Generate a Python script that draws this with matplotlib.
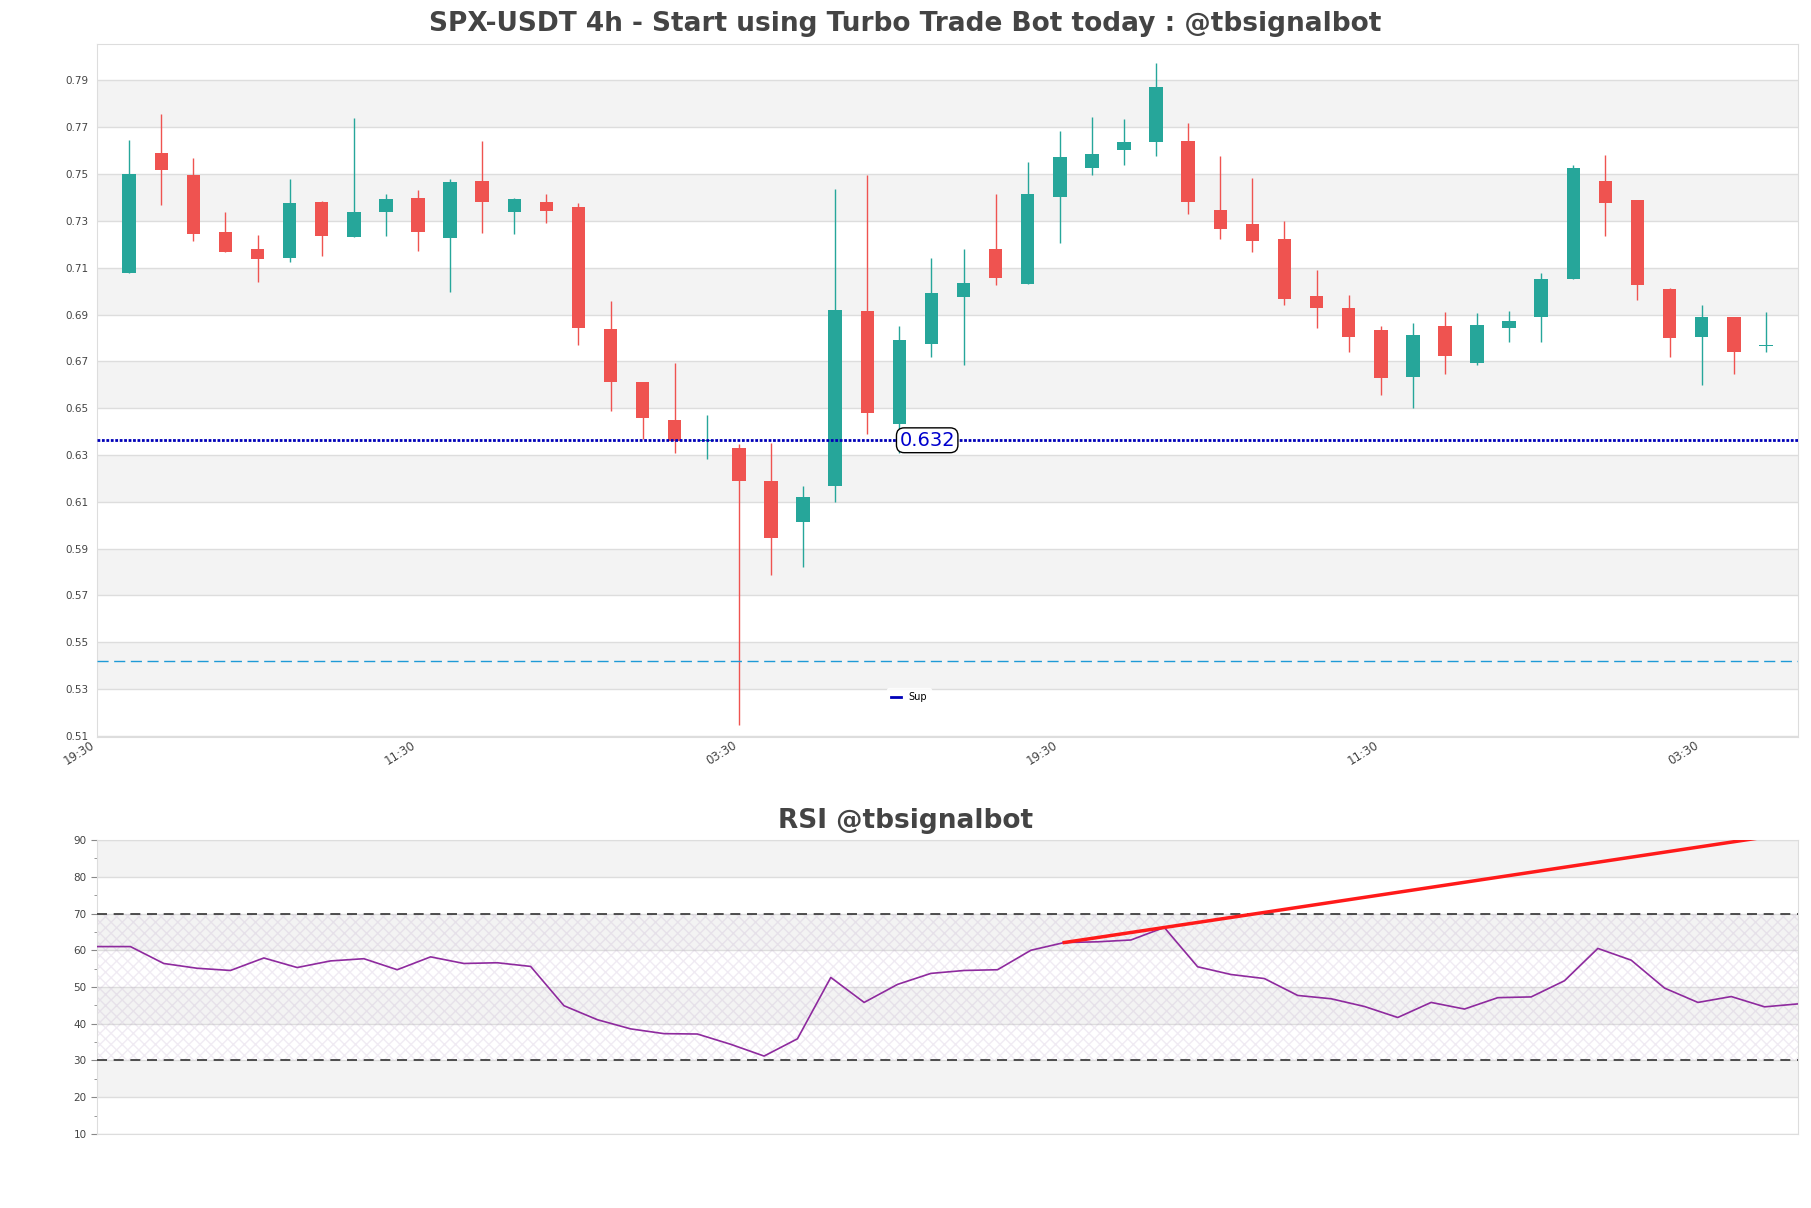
import numpy as np
import matplotlib
matplotlib.use("Agg")
import matplotlib.pyplot as plt

# 4h candles
opens = [0.7078, 0.7592, 0.7495, 0.7251, 0.7179, 0.7143, 0.7379, 0.7232, 0.7339, 0.7396,
         0.7226, 0.7472, 0.7339, 0.7382, 0.7358, 0.6838, 0.6612, 0.6450, 0.6361, 0.6330,
         0.6189, 0.6012, 0.6166, 0.6914, 0.6431, 0.6775, 0.6975, 0.7179, 0.7030, 0.7401,
         0.7525, 0.7605, 0.7635, 0.7643, 0.7348, 0.7285, 0.7224, 0.6979, 0.6928, 0.6832,
         0.6635, 0.6850, 0.6694, 0.6844, 0.6890, 0.7053, 0.7472, 0.7388, 0.7011, 0.6806,
         0.6888, 0.6765]
closes = [0.7499, 0.7518, 0.7244, 0.7167, 0.7137, 0.7375, 0.7236, 0.7337, 0.7392, 0.7253,
          0.7468, 0.7380, 0.7392, 0.7342, 0.6844, 0.6614, 0.6456, 0.6362, 0.6364, 0.6191,
          0.5944, 0.6121, 0.6918, 0.6480, 0.6791, 0.6990, 0.7034, 0.7057, 0.7417, 0.7571,
          0.7584, 0.7639, 0.7870, 0.7380, 0.7266, 0.7215, 0.6968, 0.6930, 0.6806, 0.6627,
          0.6812, 0.6724, 0.6855, 0.6872, 0.7051, 0.7527, 0.7377, 0.7028, 0.6800, 0.6888,
          0.6741, 0.6768]
highs = [0.7647, 0.7757, 0.7567, 0.7337, 0.7238, 0.7478, 0.7386, 0.7740, 0.7417, 0.7430,
         0.7478, 0.7643, 0.7396, 0.7413, 0.7377, 0.6956, 0.6612, 0.6692, 0.6471, 0.6345,
         0.6353, 0.6168, 0.7438, 0.7498, 0.6850, 0.7141, 0.7179, 0.7417, 0.7550, 0.7685,
         0.7742, 0.7736, 0.7976, 0.7719, 0.7578, 0.7485, 0.7299, 0.7089, 0.6983, 0.6850,
         0.6863, 0.6911, 0.6905, 0.6916, 0.7076, 0.7537, 0.7580, 0.7388, 0.7015, 0.6939,
         0.6888, 0.6911]
lows = [0.7078, 0.7367, 0.7215, 0.7167, 0.7040, 0.7126, 0.7150, 0.7232, 0.7236, 0.7171,
        0.6996, 0.7249, 0.7242, 0.7291, 0.6768, 0.6490, 0.6368, 0.6307, 0.6284, 0.5147,
        0.5786, 0.5820, 0.6098, 0.6391, 0.6307, 0.6720, 0.6686, 0.7025, 0.7030, 0.7205,
        0.7497, 0.7538, 0.7577, 0.7329, 0.7221, 0.7167, 0.6941, 0.6844, 0.6741, 0.6558,
        0.6501, 0.6644, 0.6686, 0.6781, 0.6781, 0.7053, 0.7234, 0.6962, 0.6720, 0.6597,
        0.6644, 0.6741]

rsi = [61.0, 61.0, 56.4, 55.1, 54.5, 57.9, 55.3, 57.1, 57.7, 54.7,
       58.2, 56.4, 56.6, 55.6, 44.9, 41.1, 38.6, 37.3, 37.2, 34.4,
       31.2, 35.9, 52.6, 45.8, 50.7, 53.7, 54.5, 54.7, 60.0, 62.1,
       62.3, 62.8, 66.2, 55.5, 53.4, 52.3, 47.7, 46.8, 44.7, 41.7,
       45.8, 44.0, 47.1, 47.3, 51.7, 60.5, 57.3, 49.7, 45.8, 47.4,
       44.6, 45.4]

tick_labels = ["19:30", "11:30", "03:30", "19:30", "11:30", "03:30"]
support = 0.6363
support_label = "0.632"
lower_line = 0.5421
trend_from, trend_to = 29, 32  # rsi indices the red trend line passes through

title = "SPX-USDT 4h - Start using Turbo Trade Bot today : @tbsignalbot"
rsi_title = "RSI @tbsignalbot"

up_col = "#26a69a"
down_col = "#ef5350"
band_col = "#f3f3f3"
grid_col = "#dddddd"
text_col = "#444444"

fig = plt.figure(figsize=(18.11, 12.08), dpi=100)
ax = fig.add_axes([0.0536, 0.3899, 0.9392, 0.5737])
ax2 = fig.add_axes([0.0536, 0.0613, 0.9392, 0.2433])

fig.text(0.5, 1 - 24 / 1208, title, ha="center", va="center",
         fontsize=19, fontweight="bold", color=text_col)
fig.text(0.5, 1 - 821 / 1208, rsi_title, ha="center", va="center",
         fontsize=19, fontweight="bold", color=text_col)

# ---- price panel ----
n = len(opens)
x = np.arange(1, n + 1)
o = np.array(opens)
c = np.array(closes)
colors = [up_col if cc >= oo else down_col for oo, cc in zip(o, c)]
body = np.maximum(np.abs(c - o), 0.0004)
ax.vlines(x, lows, highs, colors=colors, lw=1, zorder=2)
ax.bar(x, body, bottom=np.minimum(o, c), width=0.42, color=colors, zorder=3)

ymin = min(lows) * 0.99
ymax = max(highs) * 1.01
ax.set_ylim(ymin, ymax)
ax.set_xlim(0, n + 1)

yt = np.round(np.arange(0.51, 0.80, 0.02), 2)
ax.set_yticks(yt)
ax.set_yticklabels(["%.2f" % v for v in yt])
for lo in yt[1:-1:2]:
    ax.axhspan(lo, lo + 0.02, color=band_col, zorder=0, lw=0)
ax.yaxis.grid(True, color=grid_col, lw=1)
ax.set_axisbelow(True)

ax.set_xticks(np.arange(0, n + 1, 10))
ax.set_xticklabels(tick_labels, rotation=32, ha="right")
ax.tick_params(axis="y", length=0, labelsize=7.5, labelcolor=text_col, pad=6)
ax.tick_params(axis="x", length=0, labelsize=8.5, labelcolor=text_col, pad=1)
for s in ax.spines.values():
    s.set_color(grid_col)

ax.axhline(support, color="#0000b8", ls=(0, (1, 0.6)), lw=2, label="Sup", zorder=4)
ax.axhline(lower_line, color="#1e9ad6", ls="--", lw=1, dashes=(8, 4), zorder=4)
ax.text(25, support, support_label, color="mediumblue", fontsize=14,
        ha="left", va="center", zorder=5,
        bbox=dict(boxstyle="round,pad=0.15,rounding_size=0.4", fc="white",
                  ec="black", lw=1))

leg = ax.legend(loc="center", bbox_to_anchor=(0.502, 1 - 697 / 1208),
                bbox_transform=fig.transFigure, fontsize=7, handlelength=1,
                frameon=True, fancybox=True)
leg.get_frame().set_edgecolor("white")
for h in leg.get_lines():
    h.set_linestyle("-")

# ---- RSI panel ----
xr = np.arange(len(rsi))
ax2.set_xlim(0, len(rsi) - 1)
ax2.set_ylim(10, 90)
for lo in [20, 40, 60, 80]:
    ax2.axhspan(lo, lo + 10, color=band_col, zorder=0, lw=0)
ax2.fill_between([0, len(rsi) - 1], 30, 70, facecolor="none", hatch="xxx",
                 edgecolor="#b59cc4", alpha=0.2, lw=0, zorder=1)
ax2.set_yticks(np.arange(10, 91, 10))
ax2.set_yticks(np.arange(15, 90, 10), minor=True)
ax2.yaxis.grid(True, color=grid_col, lw=1)
ax2.set_axisbelow(True)
ax2.set_xticks([])
ax2.tick_params(axis="y", which="major", length=4, color="#888888",
                labelsize=7.5, labelcolor=text_col)
ax2.tick_params(axis="y", which="minor", length=2, color="#888888")
for s in ax2.spines.values():
    s.set_color(grid_col)

ax2.axhline(70, color="#333333", ls="--", lw=1.2, dashes=(6, 4), zorder=3)
ax2.axhline(30, color="#333333", ls="--", lw=1.2, dashes=(6, 4), zorder=3)
ax2.plot(xr, rsi, color="#8e2a9e", lw=1.2, zorder=4)

slope = (rsi[trend_to] - rsi[trend_from]) / (trend_to - trend_from)
tx = np.array([trend_from, len(rsi) - 1])
ty = rsi[trend_from] + slope * (tx - trend_from)
ax2.plot(tx, ty, color="#ff1a1a", lw=2.5, zorder=5)

fig.savefig("out.png", dpi=100)
